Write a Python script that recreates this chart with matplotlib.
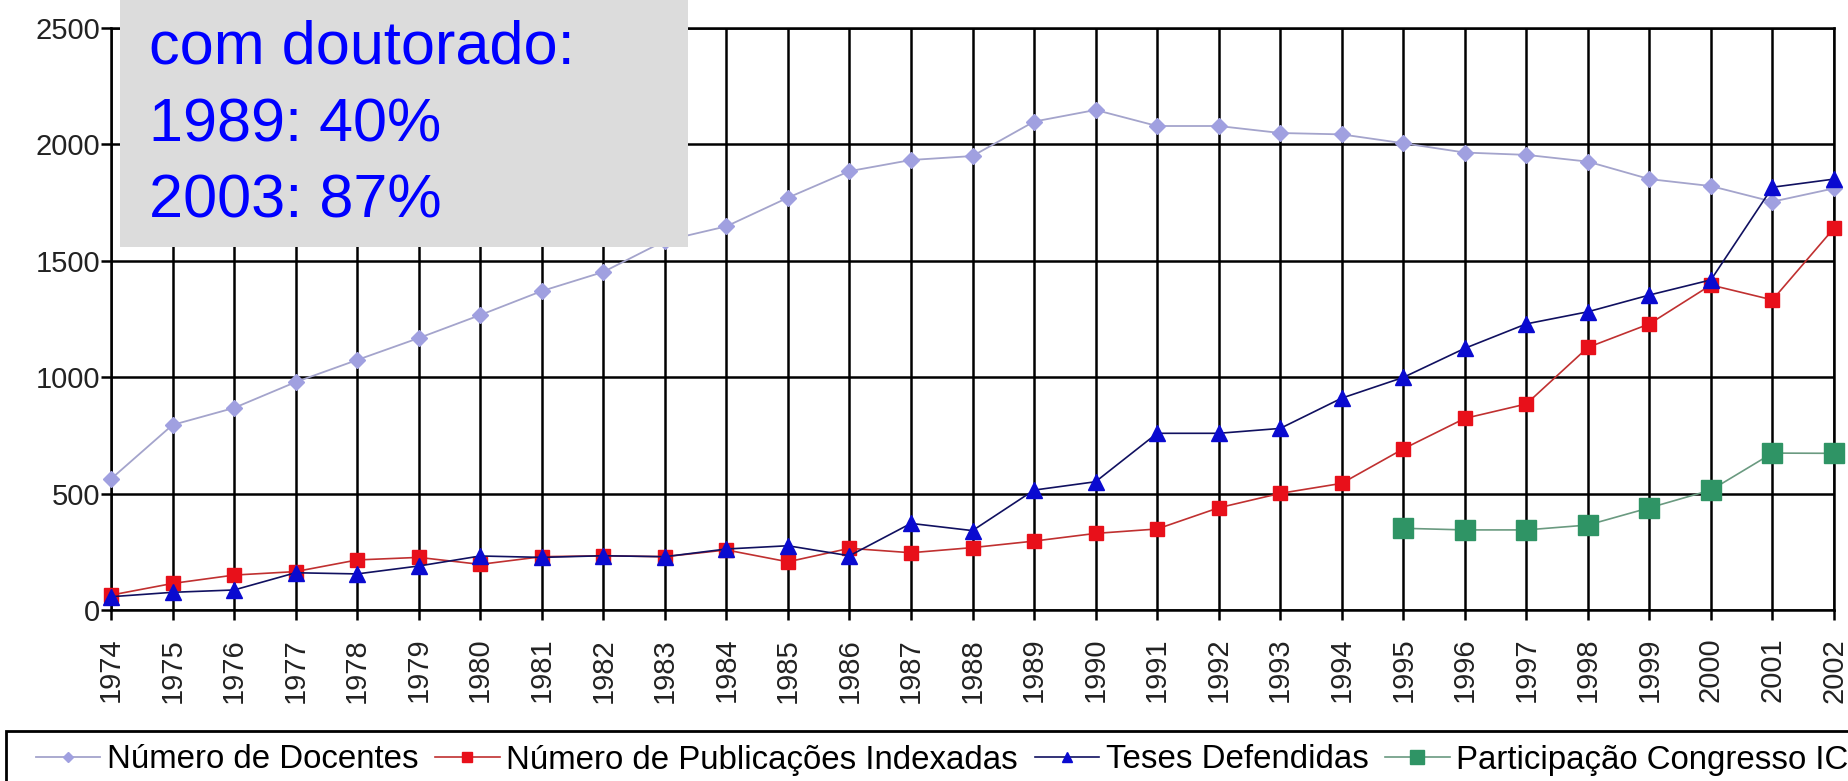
import numpy as np
import matplotlib
matplotlib.use("Agg")
import matplotlib.pyplot as plt
from matplotlib import font_manager as fm
from matplotlib.patches import Rectangle

# ---------------- data ----------------
years = list(range(1974, 2003))
docentes = [563, 795, 868, 979, 1074, 1168, 1267, 1370, 1452, 1586, 1648, 1771,
            1885, 1933, 1950, 2098, 2148, 2079, 2079, 2049, 2043, 2005, 1965,
            1955, 1926, 1851, 1821, 1754, 1811]
publicacoes = [64, 114, 150, 165, 215, 226, 196, 229, 233, 229, 258, 207, 265,
               246, 268, 296, 329, 348, 439, 501, 544, 692, 823, 885, 1128,
               1229, 1396, 1332, 1640]
teses = [57, 76, 86, 160, 155, 189, 232, 226, 233, 229, 262, 276, 233, 372,
         341, 515, 551, 759, 759, 780, 910, 999, 1124, 1229, 1281, 1353, 1418,
         1816, 1851]
congresso_years = list(range(1995, 2003))
congresso = [351, 344, 344, 365, 439, 515, 674, 673]

series_labels = ["Número de Docentes", "Número de Publicações Indexadas",
                 "Teses Defendidas", "Participação Congresso IC"]
y_ticks = [0, 500, 1000, 1500, 2000, 2500]
box_lines = ["Formação docente", "com doutorado:", "1989: 40%", "2003: 87%"]

# ---------------- fonts ----------------
names = {f.name for f in fm.fontManager.ttflist}
if "Liberation Sans Narrow" in names:
    tick_font, tick_size = "Liberation Sans Narrow", 24
else:
    tick_font, tick_size = "Liberation Sans", 21
main_font = "Liberation Sans" if "Liberation Sans" in names else "DejaVu Sans"

W, H = 1849, 781
fig = plt.figure(figsize=(W / 100, H / 100), dpi=100, facecolor="white")
ax = fig.add_axes([111 / W, 1 - 610 / H, (1834 - 111) / W, (610 - 28) / H])

grid_lw = 1.8
ax.set_xlim(1974, 2002)
ax.set_ylim(0, 2500)
ax.set_xticks(years)
ax.set_yticks(y_ticks)
ax.grid(True, color="black", linewidth=grid_lw)
ax.set_axisbelow(True)
for s in ax.spines.values():
    s.set_color("black")
    s.set_linewidth(grid_lw)

ax.tick_params(axis="both", direction="out", length=7, width=grid_lw, color="black")
ax.tick_params(axis="y", pad=1)
ax.tick_params(axis="x", pad=13)
ax.set_xticklabels([str(y) for y in years], rotation=90, fontsize=tick_size,
                   family=tick_font, color="#222222")
ax.set_yticklabels([str(v) for v in y_ticks], fontsize=tick_size,
                   family=tick_font, color="#222222")

l1, = ax.plot(years, docentes, color="#a4a4cc", lw=1.3, marker="D", ms=8,
              mfc="#a0a0e0", mec="#a0a0e0", clip_on=False, zorder=3,
              label=series_labels[0])
l2, = ax.plot(years, publicacoes, color="#c03030", lw=1.2, marker="s", ms=10,
              mfc="#e8101a", mec="#e8101a", clip_on=False, zorder=4,
              label=series_labels[1])
l3, = ax.plot(years, teses, color="#101060", lw=1.2, marker="^", ms=11,
              mfc="#0a0ad0", mec="#0a0ad0", clip_on=False, zorder=5,
              label=series_labels[2])
l4, = ax.plot(congresso_years, congresso, color="#6a9a80", lw=1.2, marker="s",
              ms=15, mfc="#2f9465", mec="#2f9465", clip_on=False, zorder=6,
              label=series_labels[3])

# gray annotation box
fig.add_artist(Rectangle((120 / W, 1 - 247 / H), (688 - 120) / W, 247 / H + 0.05,
                         transform=fig.transFigure, facecolor="#dcdcdc",
                         edgecolor="none", zorder=10))
baselines = [-14, 64, 141, 218]
for txt, b in zip(box_lines, baselines):
    fig.text(149 / W, 1 - b / H, txt, fontsize=44, family=main_font,
             color="#0000ff", va="baseline", ha="left", zorder=11)

# legend frame
fig.add_artist(Rectangle((6 / W, -0.05), 1.1, (781 - 731) / H + 0.05,
                         transform=fig.transFigure, facecolor="white",
                         edgecolor="black", linewidth=2, zorder=1))
leg = fig.legend(handles=[l1, l2, l3, l4], loc="center left",
                 bbox_to_anchor=(36 / W, 1 - 760 / H), ncol=4, frameon=False,
                 prop={"family": main_font, "size": 23.8}, handlelength=1.95,
                 handletextpad=0.2, columnspacing=0.5, borderaxespad=0,
                 borderpad=0, markerscale=0.7)
leg.set_zorder(12)

fig.savefig("out.png", dpi=100, facecolor="white")
